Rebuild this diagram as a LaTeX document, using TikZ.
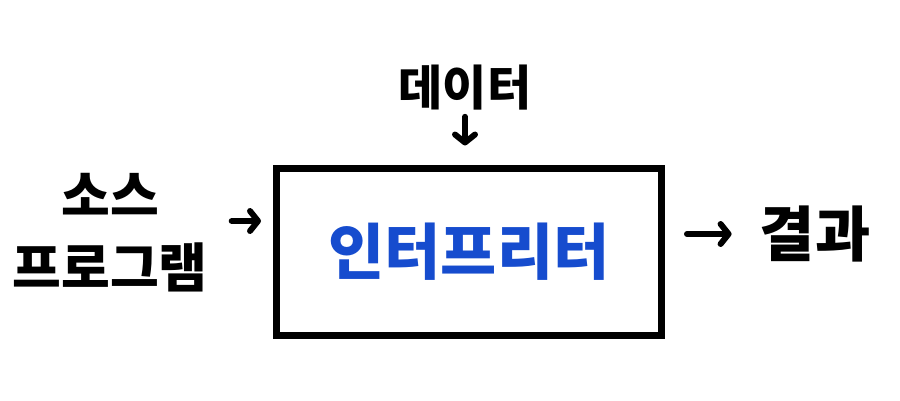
\documentclass[tikz,border=0pt]{standalone}
\usepackage{fontspec}
\newfontfamily\hangul{Noto Sans CJK KR}
\usetikzlibrary{arrows.meta}
\definecolor{interpblue}{RGB}{22,76,206}
\tikzset{
  lbl/.style={font=\hangul\bfseries, inner sep=0pt},
  arr/.style={line width=6pt, line cap=round, -{Straight Barb[length=8pt,width=20pt,round]}},
}
\begin{document}
\begin{tikzpicture}[x=1pt,y=-1pt]
\useasboundingbox (0,0) rectangle (900,401);
% the box in the middle
\node[draw, line width=7pt, minimum width=385pt, minimum height=166pt,
      text=interpblue, font=\hangul\bfseries\fontsize{61}{66}\selectfont]
      (interp) at (469,252) {인터프리터};
% labels round it
\node[lbl, font=\hangul\bfseries\fontsize{48}{54}\selectfont] (data) at (465,88) {데이터};
\node[lbl, align=center, font=\hangul\bfseries\fontsize{53}{72}\selectfont] (src) at (110,233) {소스\\프로그램};
\node[lbl, font=\hangul\bfseries\fontsize{60}{66}\selectfont] (result) at (815,234) {결과};
% arrows
\draw[arr, shorten <=6pt, shorten >=20pt] (data.south) -- (interp.north -| data.south);
\draw[arr, shorten <=24pt, shorten >=12pt] (src.east |- 0,221) -- (interp.west |- 0,221);
\draw[arr, shorten <=22pt, shorten >=28pt] (interp.east |- result.west) -- (result.west);
\end{tikzpicture}
\end{document}
